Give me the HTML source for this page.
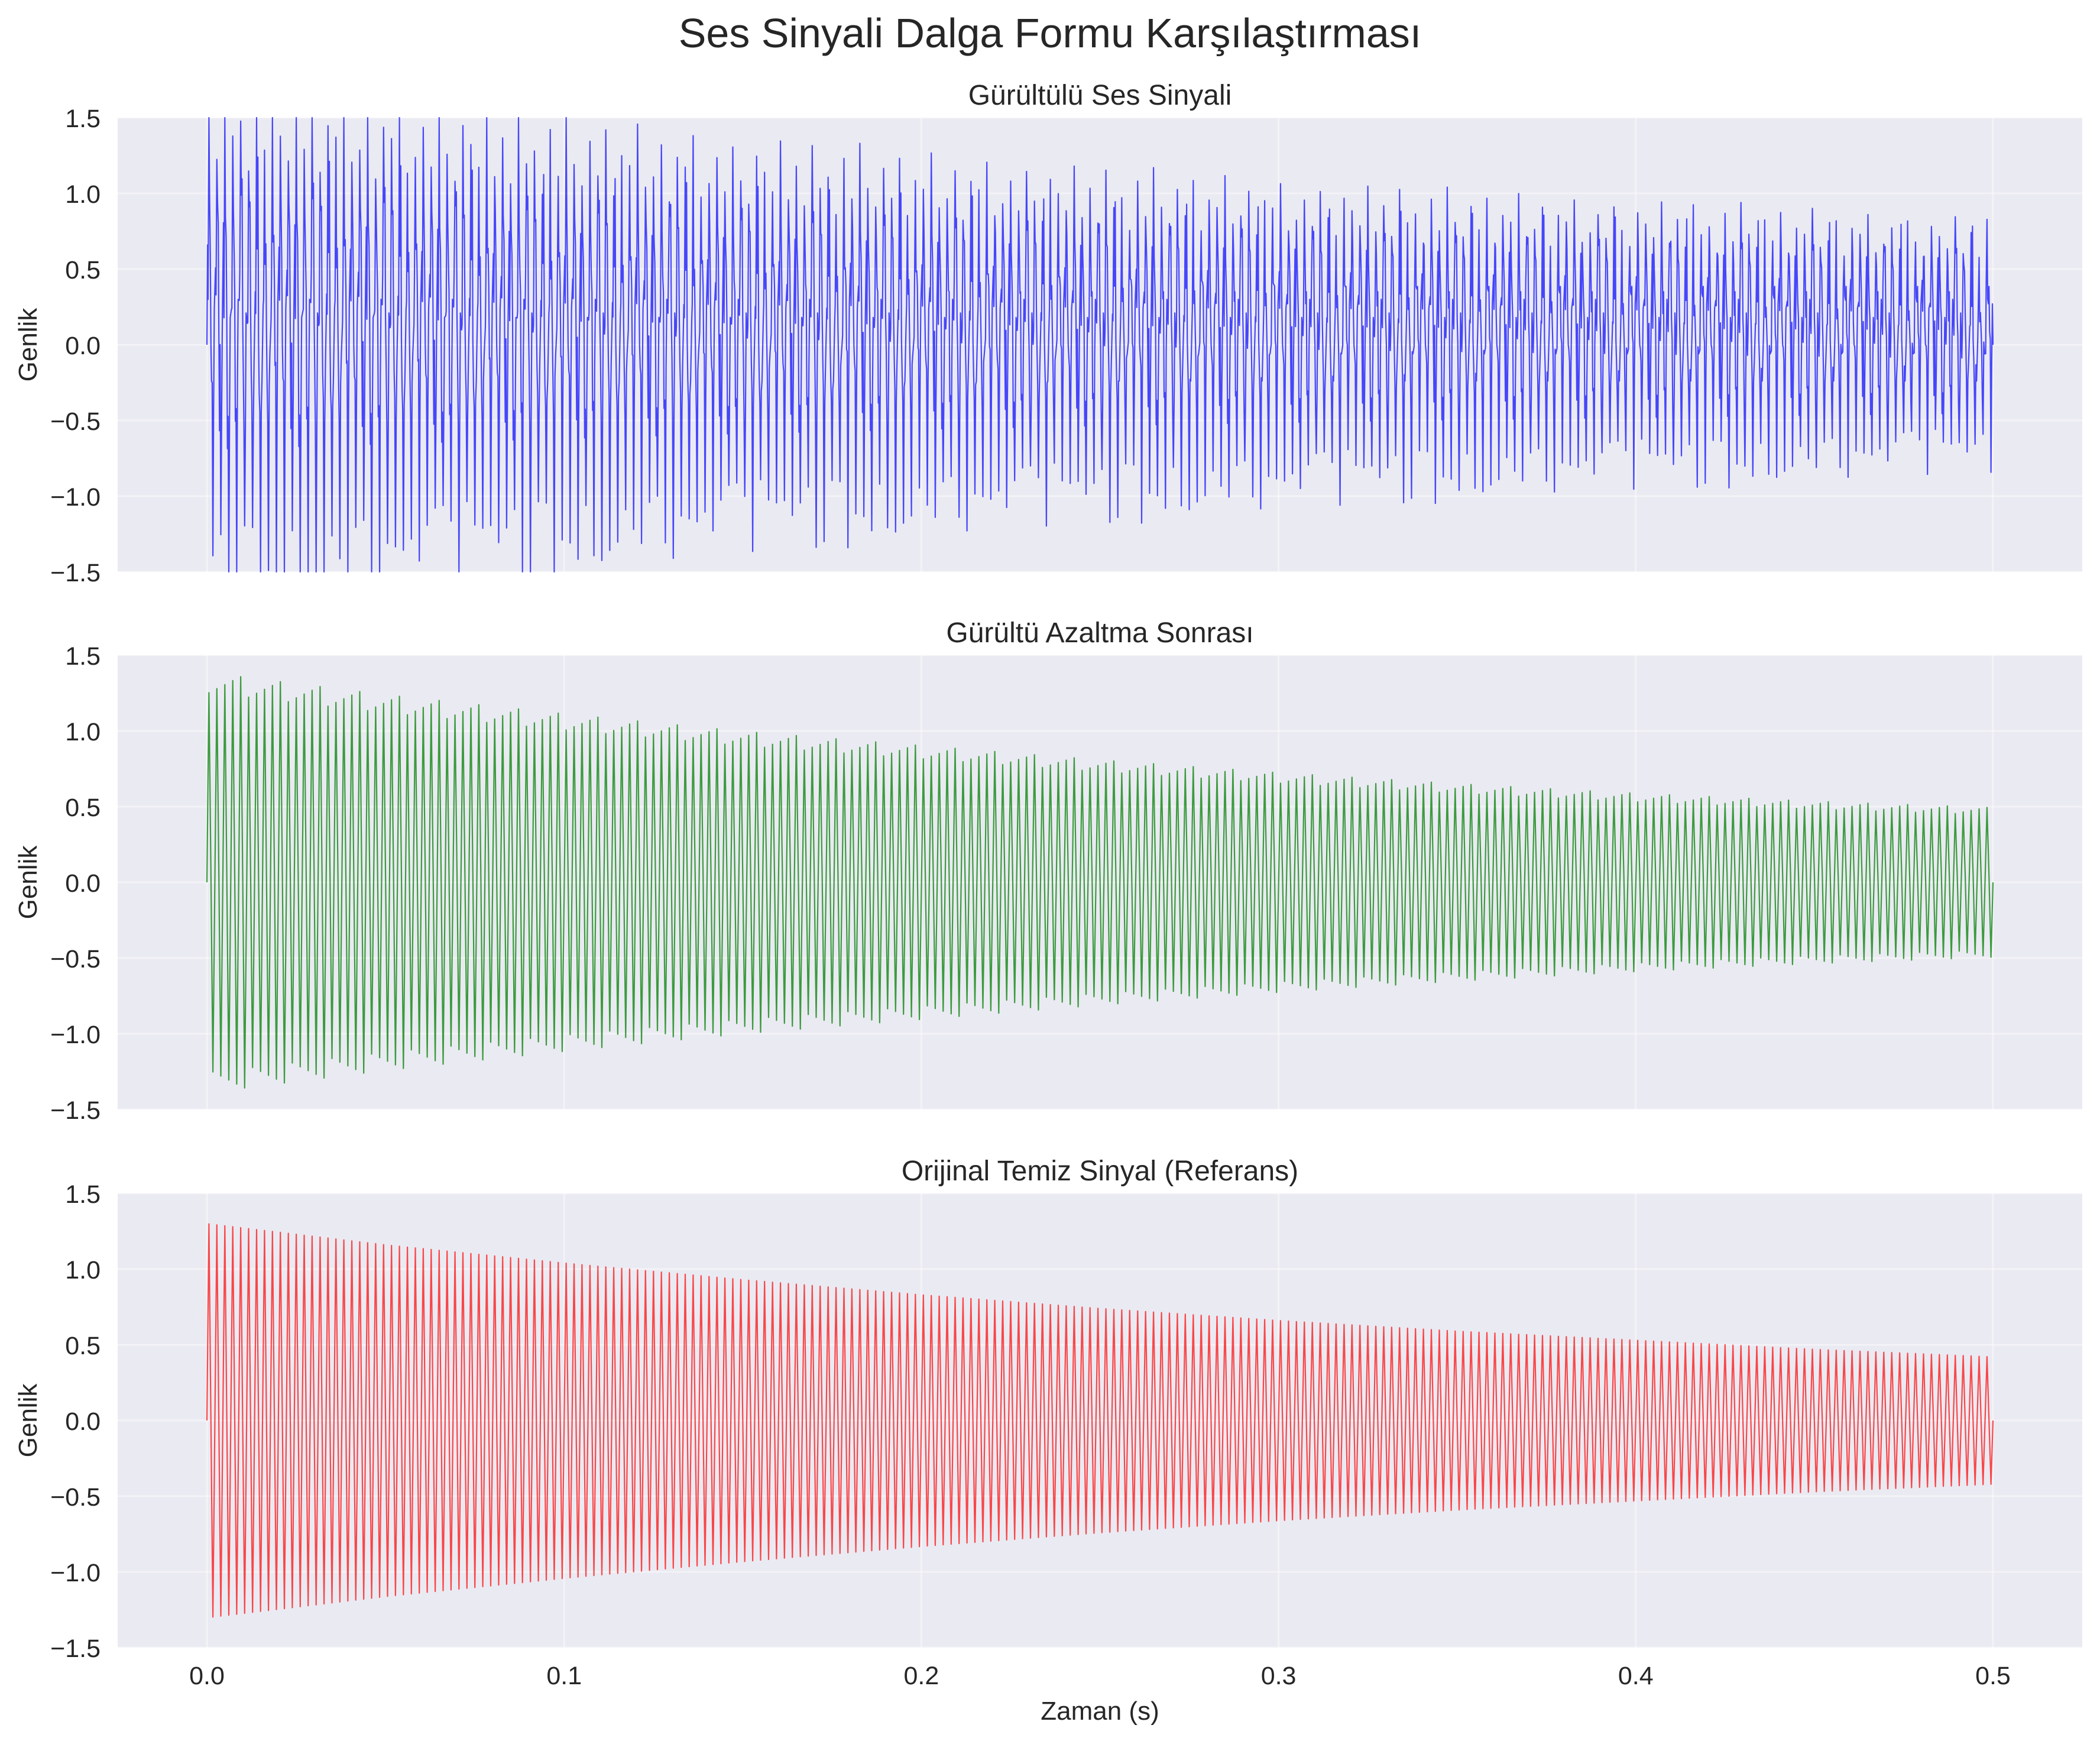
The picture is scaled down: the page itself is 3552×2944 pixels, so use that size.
<!DOCTYPE html>
<html><head><meta charset="utf-8">
<style>
html,body{margin:0;padding:0;background:#fff;}
svg{display:block;}
text{font-family:"Liberation Sans",Arial,sans-serif;fill:#262626;}
</style></head>
<body>
<svg id="fig" width="3552" height="2944" viewBox="0 0 3552 2944" xmlns="http://www.w3.org/2000/svg">
<text x="1776" y="80" font-size="70" text-anchor="middle">Ses Sinyali Dalga Formu Karşılaştırması</text>
<g id="plots"></g>
</svg>
<script>
// ---- data ----
const xTicks = [0.0, 0.1, 0.2, 0.3, 0.4, 0.5];
const xTickLabels = ["0.0", "0.1", "0.2", "0.3", "0.4", "0.5"];
const yTicks = [-1.5, -1.0, -0.5, 0.0, 0.5, 1.0, 1.5];
const yTickLabels = ["−1.5", "−1.0", "−0.5", "0.0", "0.5", "1.0", "1.5"];
const panelTitles = ["Gürültülü Ses Sinyali", "Gürültü Azaltma Sonrası", "Orijinal Temiz Sinyal (Referans)"];
const envTimes = [0, 0.05, 0.1, 0.15, 0.2, 0.25, 0.3, 0.35, 0.4, 0.45, 0.5];
const noisyEnvelope = [1.5, 1.38, 1.26, 1.15, 1.06, 0.98, 0.91, 0.85, 0.8, 0.75, 0.7];
const denoisedEnvelope = [1.32, 1.18, 1.06, 0.95, 0.86, 0.77, 0.69, 0.62, 0.56, 0.51, 0.47];
const cleanEnvelope = [1.3, 1.16, 1.04, 0.93, 0.83, 0.74, 0.66, 0.59, 0.53, 0.47, 0.42];
const noiseFactors = [1.05, 0.82, 1.18, 0.93, 1.0, 0.78, 1.12, 0.88, 1.22, 0.95, 0.84, 1.08, 0.9, 1.15, 0.8, 1.02, 0.97, 1.2, 0.86, 0.92, 1.1, 0.79, 1.04, 0.99, 1.17, 0.83, 0.91, 1.06, 0.87, 1.13, 0.94, 0.81, 1.09, 1.0, 0.89, 1.19, 0.85];
const noiseMid = [0.35, -0.2, 0.5, 0.1, -0.4, 0.25, 0.6, -0.1, 0.3, -0.35, 0.45, 0.05, -0.25, 0.4, 0.15, -0.5, 0.2, 0.55, -0.15, 0.3, 0.0, -0.3, 0.5, 0.1, -0.45, 0.35, 0.25];
const cycleCount = 225;
const duration = 0.5;

// ---- layout ----
const axLeft = 199, axRight = 3522;
const panelTops = [199, 1108, 2018];
const panelH = 768;
const xMin = -0.025, xMax = 0.525;
const colors = ["rgba(0,0,255,0.7)", "rgba(0,128,0,0.75)", "rgba(255,0,0,0.7)"];
const NS = "http://www.w3.org/2000/svg";
const root = document.getElementById('plots');

function xs(v){ return axLeft + (v - xMin) / (xMax - xMin) * (axRight - axLeft); }
function ysFor(top){ return v => top + (1.5 - v) / 3 * panelH; }
function envAt(env, t){
  for (let i = 0; i < envTimes.length - 1; i++){
    if (t <= envTimes[i+1]){ const f = (t - envTimes[i]) / (envTimes[i+1] - envTimes[i]); return env[i] + f * (env[i+1] - env[i]); }
  }
  return env[env.length - 1];
}
function mk(tag, attrs, parent){
  const e = document.createElementNS(NS, tag);
  for (const k in attrs) e.setAttribute(k, attrs[k]);
  parent.appendChild(e); return e;
}

const envs = [noisyEnvelope, denoisedEnvelope, cleanEnvelope];
const names = ["noisy-signal", "denoised-signal", "clean-signal"];

for (let p = 0; p < 3; p++){
  const top = panelTops[p];
  const ys = ysFor(top);
  const g = mk('g', {}, root);
  
  
  const bg = mk('rect', {x: axLeft, y: top, width: axRight - axLeft, height: panelH, fill: '#eaeaf2'}, g);
  
  
  yTicks.forEach((v, i) => {
    const l = mk('line', {x1: axLeft, x2: axRight, y1: ys(v), y2: ys(v), stroke: '#fff', 'stroke-width': 3, opacity: 0.45}, g);
    
    
    const t = mk('text', {x: 170, y: ys(v) + 16, 'font-size': 43, 'text-anchor': 'end'}, g);
    t.textContent = yTickLabels[i];
    
    
  });
  xTicks.forEach((v, i) => {
    const l = mk('line', {x1: xs(v), x2: xs(v), y1: top, y2: top + panelH, stroke: '#fff', 'stroke-width': 3, opacity: 0.45}, g);
    
    
    if (p === 2){
      const t = mk('text', {x: xs(v), y: 2848, 'font-size': 43, 'text-anchor': 'middle'}, g);
      t.textContent = xTickLabels[i];
      
      
    }
  });
  const tt = mk('text', {x: (axLeft + axRight) / 2, y: top - 22, 'font-size': 48, 'text-anchor': 'middle'}, g);
  tt.textContent = panelTitles[p];
  
  
  const yl = mk('text', {x: 0, y: 0, 'font-size': 44, 'text-anchor': 'middle', transform: `translate(62 ${top + panelH/2}) rotate(-90)`}, g);
  yl.textContent = 'Genlik';
  
  
  const P = duration / cycleCount;
  let pts = [];
  const clip = v => Math.max(-1.5, Math.min(1.5, v));
  pts.push([xs(0), ys(0)]);
  for (let k = 0; k < cycleCount; k++){
    const t0 = k * P;
    const A = envAt(envs[p], t0 + P * 0.25);
    if (p === 0){
      const f1 = noiseFactors[k % noiseFactors.length];
      const f2 = noiseFactors[(k * 7 + 3) % noiseFactors.length];
      const m = j => noiseMid[(k * 3 + j * 5) % noiseMid.length];
      pts.push([xs(t0 + P*0.08), ys(clip(A*0.3 + m(0)*0.6))]);
      pts.push([xs(t0 + P*0.14), ys(clip(A*0.1 + m(1)*0.6))]);
      pts.push([xs(t0 + P*0.25), ys(clip(A*f1))]);
      pts.push([xs(t0 + P*0.33), ys(clip(A*0.5 + m(2)*0.5))]);
      pts.push([xs(t0 + P*0.42), ys(clip(A*0.6 + m(3)*0.6))]);
      pts.push([xs(t0 + P*0.5), ys(clip(m(4)*0.7))]);
      pts.push([xs(t0 + P*0.58), ys(clip(-A*0.3 + m(5)*0.6))]);
      pts.push([xs(t0 + P*0.66), ys(clip(-A*0.2 + m(6)*0.5))]);
      pts.push([xs(t0 + P*0.75), ys(clip(-A*f2))]);
      pts.push([xs(t0 + P*0.84), ys(clip(-A*0.4 + m(7)*0.6))]);
      pts.push([xs(t0 + P*0.93), ys(clip(m(8)*0.6))]);
    } else if (p === 1){
      const f1 = 0.95 + 0.1 * ((k % 5) / 4);
      pts.push([xs(t0 + P*0.25), ys(A*f1)]);
      pts.push([xs(t0 + P*0.5), ys(0.05)]);
      pts.push([xs(t0 + P*0.75), ys(-A*f1)]);
    } else {
      pts.push([xs(t0 + P*0.25), ys(A)]);
      pts.push([xs(t0 + P*0.75), ys(-A)]);
    }
  }
  pts.push([xs(duration), ys(0)]);
  const line = mk('polyline', {points: pts.map(q => q[0].toFixed(1) + ',' + q[1].toFixed(1)).join(' '), fill: 'none', stroke: colors[p], 'stroke-width': 2.2, 'stroke-linejoin': 'round'}, g);
  
  
}
const xl = mk('text', {x: (axLeft + axRight) / 2, y: 2908, 'font-size': 44, 'text-anchor': 'middle'}, root);
xl.textContent = 'Zaman (s)';


</script>
</body></html>
